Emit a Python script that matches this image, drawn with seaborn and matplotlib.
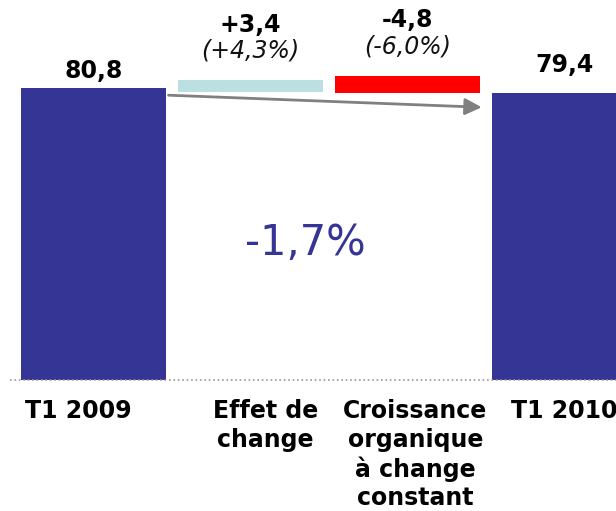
import seaborn as sns
import matplotlib.pyplot as plt
import matplotlib.transforms as mtransforms
import numpy as np
import pandas as pd

# donnees du graphique (waterfall T1 2009 -> T1 2010)
categories = ["T1 2009", "Effet de\nchange", "Croissance\norganique\nà change\nconstant", "T1 2010"]
tops = [80.8, 83.1, 84.2, 79.4]
bottoms = [0.0, 79.7, 79.4, 0.0]
value_labels = ["80,8", "+3,4", "-4,8", "79,4"]
pct_labels = ["", "(+4,3%)", "(-6,0%)", ""]
total_change = "-1,7%"
colors = ["#353596", "#BAE0E2", "#FF0000", "#353596"]

df = pd.DataFrame({"cat": categories, "top": tops, "bottom": bottoms})
df["height"] = df["top"] - df["bottom"]

sns.set_style("white")
plt.rcParams["font.family"] = ["DejaVu Sans"]

fig = plt.figure(figsize=(6.16, 5.11), dpi=100)
ax = fig.add_axes([0, 131 / 511, 1, 380 / 511])

sns.barplot(data=df, x="cat", y="height", order=categories, bottom=df["bottom"].values,
            width=0.92, color=colors[0], ax=ax, errorbar=None)
for p, c in zip(ax.patches, colors):
    p.set_facecolor(c)
    p.set_edgecolor("none")

ax.set_xlim(-93.5 / 157, (616 - 93.5) / 157)
ax.set_ylim(0, 105.1)

# ligne pointillee de base
ax.plot([-83.5 / 157, 4], [0, 0], color="#999999", linestyle=":", linewidth=1.2, clip_on=False)

# etiquettes des categories
ax.set_xticks(range(len(categories)))
ax.set_xticklabels(categories, fontsize=17, fontweight="bold", linespacing=1.22, color="black")
ax.tick_params(axis="x", length=0, pad=14)
shifts = [-15, 15, 8, 0]  # petit decalage horizontal des etiquettes (px)
for lbl, dx in zip(ax.get_xticklabels(), shifts):
    lbl.set_transform(lbl.get_transform() + mtransforms.ScaledTranslation(dx / 100, 0, fig.dpi_scale_trans))
ax.set_yticks([])
ax.set_xlabel("")
ax.set_ylabel("")
sns.despine(ax=ax, left=True, bottom=True)

# valeurs
offsets = [7, 34, 35, 15]
for i, (lab, top, off) in enumerate(zip(value_labels, tops, offsets)):
    ax.annotate(lab, xy=(i, top), xytext=(0, off), textcoords="offset points",
                ha="center", va="baseline", fontsize=17, fontweight="bold", color="black")
for i, (lab, top) in enumerate(zip(pct_labels, tops)):
    if lab:
        ax.annotate(lab, xy=(i, top), xytext=(0, 16), textcoords="offset points",
                    ha="center", va="baseline", fontsize=17, style="italic", color="#111111")

# fleche grise
w = 0.92
ax.annotate("", xy=(3 - w / 2 - 0.05, tops[3] - 4), xytext=(w / 2, tops[0] - 2),
            arrowprops=dict(arrowstyle="-|>,head_length=1.0,head_width=0.5", color="#808080", lw=2))

ax.text(1.35, 38, total_change, ha="center", va="center", fontsize=30, color="#353596")

plt.savefig("out.png", dpi=100)
